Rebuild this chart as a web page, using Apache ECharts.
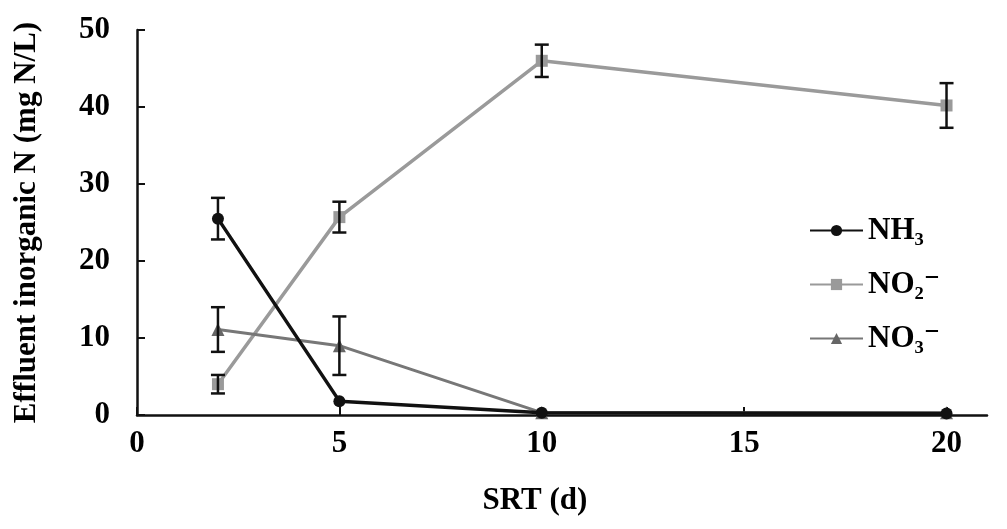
<!DOCTYPE html>
<html>
<head>
<meta charset="utf-8">
<script src="https://cdn.jsdelivr.net/npm/echarts@6/dist/echarts.min.js"></script>
<style>
  html, body { margin: 0; padding: 0; background: #fff; }
  #main { width: 1007px; height: 529px; }
</style>
</head>
<body>
<div id="main"></div>
<script>
// SRT values (d)
const srt = [2, 5, 10, 20]
// effluent N (mg N/L) and error half-widths
const nh3 = [25.5, 1.8, 0.3, 0.2]
const nh3Err = [2.7, 0, 0, 0]
const no2 = [4, 25.7, 46, 40.2]
const no2Err = [1.2, 2, 2.1, 2.9]
const no3 = [11.1, 9, 0.3, 0.3]
const no3Err = [2.9, 3.8, 0, 0]
const xTicks = [0, 5, 10, 15, 20]

const font = '"Liberation Serif", "DejaVu Serif", serif'

function pts(ys) {
  return srt.map((x, i) => [x, ys[i]])
}
function errPts(ys, errs) {
  return srt.map((x, i) => [x, ys[i] - errs[i], ys[i] + errs[i]]).filter((d, i) => errs[i] > 0)
}

// error bars drawn with a custom series
function errorBars(name, data) {
  return {
    type: 'custom',
    name: name + '-err',
    data: data,
    z: 5,
    silent: true,
    renderItem: (params, api) => {
      const x = api.value(0)
      const lo = api.coord([x, api.value(1)])
      const hi = api.coord([x, api.value(2)])
      const w = 7
      const style = { stroke: '#111', lineWidth: 2.5 }
      return {
        type: 'group',
        children: [
          { type: 'line', shape: { x1: lo[0], y1: lo[1], x2: hi[0], y2: hi[1] }, style },
          { type: 'line', shape: { x1: lo[0] - w, y1: lo[1], x2: lo[0] + w, y2: lo[1] }, style },
          { type: 'line', shape: { x1: hi[0] - w, y1: hi[1], x2: hi[0] + w, y2: hi[1] }, style },
        ],
      }
    },
  }
}

const chart = echarts.init(document.getElementById('main'))
chart.setOption({
  animation: false,
  backgroundColor: '#fff',
  grid: { left: 137, right: 20, top: 30, bottom: 114, outerBoundsMode: 'none' },
  legend: {
    orient: 'vertical',
    left: 804,
    top: 210,
    itemGap: 23,
    itemWidth: 53,
    itemHeight: 14,
    data: ['NH₃', 'NO₂⁻', 'NO₃⁻'],
    textStyle: { fontFamily: font, fontWeight: 'bold', fontSize: 31, color: '#000' },
  },
  xAxis: {
    type: 'value',
    min: 0,
    max: 21,
    interval: 5,
    name: 'SRT (d)',
    nameLocation: 'middle',
    nameGap: 70,
    nameTextStyle: { fontFamily: font, fontWeight: 'bold', fontSize: 31, color: '#000', padding: [0, 54, 0, 0] },
    splitLine: { show: false },
    axisLine: { lineStyle: { color: '#111', width: 2.5 } },
    axisTick: { inside: true, length: 8, customValues: xTicks, lineStyle: { color: '#111', width: 2 } },
    axisLabel: { customValues: xTicks, margin: 13, fontFamily: font, fontWeight: 'bold', fontSize: 31, color: '#000' },
  },
  yAxis: {
    type: 'value',
    min: 0,
    max: 50,
    interval: 10,
    name: 'Effluent inorganic N (mg N/L)',
    nameLocation: 'middle',
    nameGap: 95,
    nameTextStyle: { fontFamily: font, fontWeight: 'bold', fontSize: 31, color: '#000' },
    splitLine: { show: false },
    axisLine: { show: true, lineStyle: { color: '#111', width: 2.5 } },
    axisTick: { show: true, inside: true, length: 8, lineStyle: { color: '#111', width: 2 } },
    axisLabel: { margin: 27, fontFamily: font, fontWeight: 'bold', fontSize: 31, color: '#000' },
  },
  series: [
    {
      name: 'NO₂⁻',
      type: 'line',
      data: pts(no2),
      symbol: 'rect',
      symbolSize: 12,
      itemStyle: { color: '#9a9a9a' },
      lineStyle: { color: '#9a9a9a', width: 3.5 },
      z: 3,
    },
    {
      name: 'NO₃⁻',
      type: 'line',
      data: pts(no3),
      symbol: 'triangle',
      symbolSize: 13,
      itemStyle: { color: '#666' },
      lineStyle: { color: '#777', width: 3 },
      z: 3,
    },
    {
      name: 'NH₃',
      type: 'line',
      data: pts(nh3),
      symbol: 'circle',
      symbolSize: 12,
      itemStyle: { color: '#111' },
      lineStyle: { color: '#111', width: 3.5 },
      z: 4,
    },
    errorBars('NH₃', errPts(nh3, nh3Err)),
    errorBars('NO₂⁻', errPts(no2, no2Err)),
    errorBars('NO₃⁻', errPts(no3, no3Err)),
  ],
})
</script>
</body>
</html>
